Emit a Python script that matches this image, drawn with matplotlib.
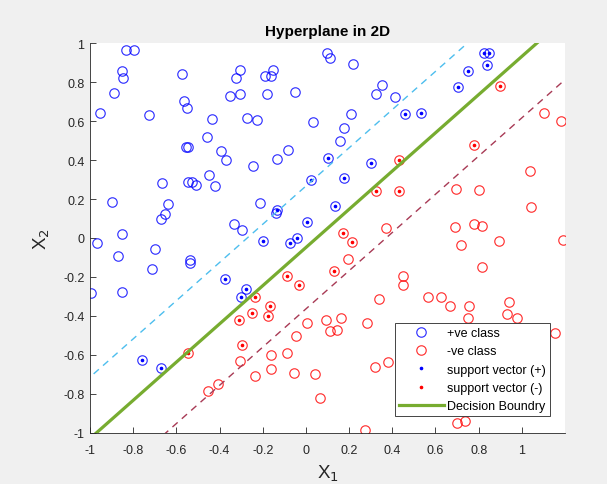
import numpy as np
import matplotlib
matplotlib.use("Agg")
import matplotlib.pyplot as plt
from matplotlib.lines import Line2D

plt.rcParams['font.family'] = ['Liberation Sans', 'DejaVu Sans']

# positive class (no support vector)
pos_x = [-0.834, -0.796, -0.854, -0.849, -0.888, -0.952, -0.726, -0.574, -0.565, -0.552,
         -0.437, -0.460, -0.557, -0.548, -0.392, -0.371, -0.449, -0.420, -0.545, -0.526,
         -0.509, -0.666, -0.897, -0.639, -0.655, -0.672, -0.852, -0.335, -0.297, -0.351,
         -0.306, -0.322, -0.306, -0.271, -0.228, -0.189, -0.162, -0.154, -0.182, -0.049,
         -0.245, -0.134, -0.083, -0.212, -0.140, 0.034, 0.098, 0.110, 0.220, 0.352,
         0.324, 0.414, 0.210, 0.177, 0.160, -0.968, -0.872, -0.697, -0.713, -0.851,
         -0.995, -0.539, -0.539]
pos_y = [0.963, 0.963, 0.857, 0.819, 0.744, 0.641, 0.631, 0.840, 0.701, 0.668,
         0.610, 0.516, 0.466, 0.466, 0.449, 0.398, 0.324, 0.266, 0.289, 0.289,
         0.272, 0.281, 0.185, 0.175, 0.122, 0.098, 0.022, 0.070, 0.041, 0.727,
         0.739, 0.821, 0.864, 0.615, 0.607, 0.833, 0.833, 0.860, 0.740, 0.752,
         0.372, 0.405, 0.452, 0.178, 0.130, 0.596, 0.950, 0.925, 0.895, 0.788,
         0.739, 0.725, 0.638, 0.567, 0.500, -0.027, -0.093, -0.057, -0.161, -0.276,
         -0.281, -0.111, -0.127]

# positive support vectors
psv_x = [-0.135, 0.006, 0.024, 0.101, 0.135, 0.177, 0.301, 0.460, 0.531, 0.703,
         0.752, 0.826, 0.846, 0.838, -0.376, -0.279, -0.302, -0.198, -0.074, -0.039,
         -0.757, -0.672]
psv_y = [0.145, 0.084, 0.298, 0.410, 0.166, 0.310, 0.384, 0.638, 0.641, 0.775,
         0.857, 0.950, 0.950, 0.888, -0.209, -0.262, -0.302, -0.015, -0.026, 0.000,
         -0.629, -0.668]

# negative class (no support vector)
neg_x = [1.101, 1.180, 1.038, 0.695, 0.804, 1.044, 0.371, 0.692, 0.778, 0.815,
         0.197, 0.720, 0.895, 1.189, 0.815, 0.449, 0.450, 0.337, 0.564, 0.627,
         0.667, 0.755, 0.941, 0.932, 0.978, 0.750, 1.152, 0.092, 0.163, 0.112,
         0.146, 0.283, 0.320, 0.380, 0.067, 0.274, 0.700, 0.738, 0.003, -0.045,
         -0.162, -0.088, -0.303, -0.163, -0.235, -0.053, 0.044, -0.408, -0.452]
neg_y = [0.643, 0.602, 0.346, 0.250, 0.245, 0.159, 0.053, 0.058, 0.072, 0.063,
         -0.110, -0.036, -0.014, -0.010, -0.147, -0.195, -0.243, -0.314, -0.303, -0.302,
         -0.350, -0.351, -0.331, -0.389, -0.413, -0.413, -0.487, -0.423, -0.410, -0.480,
         -0.473, -0.439, -0.662, -0.636, -0.823, -0.987, -0.951, -0.939, -0.439, -0.504,
         -0.603, -0.590, -0.634, -0.674, -0.708, -0.696, -0.699, -0.749, -0.788]

# negative support vectors
nsv_x = [0.898, 0.777, 0.431, 0.323, 0.431, 0.174, 0.215, 0.131, -0.545, -0.235,
         -0.168, -0.177, -0.251, -0.311, -0.294, -0.088, -0.034]
nsv_y = [0.781, 0.478, 0.401, 0.242, 0.242, 0.026, -0.019, -0.170, -0.590, -0.305,
         -0.351, -0.403, -0.386, -0.422, -0.549, -0.194, -0.242]

# hyperplane w1*x + w2*y + b = 0
w = [-3.11, 3.17]
b = 0.155

xticks = [-1, -0.8, -0.6, -0.4, -0.2, 0, 0.2, 0.4, 0.6, 0.8, 1]
xticklabels = ['-1', '-0.8', '-0.6', '-0.4', '-0.2', '0', '0.2', '0.4', '0.6', '0.8', '1']
yticks = [-1, -0.8, -0.6, -0.4, -0.2, 0, 0.2, 0.4, 0.6, 0.8, 1]
yticklabels = ['-1', '-0.8', '-0.6', '-0.4', '-0.2', '0', '0.2', '0.4', '0.6', '0.8', '1']

fig = plt.figure(figsize=(6.07, 4.85), dpi=100, facecolor='#F0F0F0')
ax = fig.add_axes([0.1483, 0.1058, 0.7825, 0.803])
ax.set_facecolor('white')

ms = 6.8
mew = 0.85
blue = '#0000FF'
red = '#FF0000'
ax.plot(pos_x + psv_x, pos_y + psv_y, 'o', mfc='none', mec=blue, ms=ms, mew=mew, alpha=0.8)
ax.plot(neg_x + nsv_x, neg_y + nsv_y, 'o', mfc='none', mec=red, ms=ms, mew=mew, alpha=0.8)
ax.plot(psv_x, psv_y, '.', color=blue, ms=3.2)
ax.plot(nsv_x, nsv_y, '.', color=red, ms=3.2)

xs = np.linspace(-1.2, 1.4, 200)
yd = -(w[0] * xs + b) / w[1]
yp = -(w[0] * xs + b - 1) / w[1]
ym = -(w[0] * xs + b + 1) / w[1]
ax.plot(xs, yp, '--', color='#4DBEEE', lw=1.0, dashes=(5, 4))
ax.plot(xs, ym, '--', color='#A83A55', lw=1.0, dashes=(5, 4))
ax.plot(xs, yd, '-', color='#77AC30', lw=2.3)

ax.set_xlim(-1, 1.2)
ax.set_ylim(-1, 1)
ax.set_xticks(xticks)
ax.set_xticklabels(xticklabels)
ax.set_yticks(yticks)
ax.set_yticklabels(yticklabels)
ax.tick_params(direction='in', length=4, width=0.6, colors='#262626', labelsize=9)
ax.tick_params(axis='x', pad=8)
ax.tick_params(axis='y', pad=4)
for s in ['top', 'right']:
    ax.spines[s].set_visible(False)
for s in ['left', 'bottom']:
    ax.spines[s].set_color('#262626')
    ax.spines[s].set_linewidth(0.6)

ax.set_title('Hyperplane in 2D', fontsize=11, fontweight='bold', pad=6)
ax.set_xlabel('X$_1$', fontsize=13.5, labelpad=5, color='#262626')
ax.set_ylabel('X$_2$', fontsize=13.5, labelpad=8, color='#262626')

handles = [
    Line2D([], [], ls='none', marker='o', mfc='none', mec=blue, ms=ms, mew=mew, alpha=0.8),
    Line2D([], [], ls='none', marker='o', mfc='none', mec=red, ms=ms, mew=mew, alpha=0.8),
    Line2D([], [], ls='none', marker='.', color=blue, ms=3.2),
    Line2D([], [], ls='none', marker='.', color=red, ms=3.2),
    Line2D([], [], color='#77AC30', lw=2.3),
]
labels = ['+ve class', '-ve class', 'support vector (+)', 'support vector (-)', 'Decision Boundry']
leg = ax.legend(handles, labels, loc='lower right', bbox_to_anchor=(0.968, 0.043),
                fontsize=9, frameon=True, fancybox=False, framealpha=1,
                edgecolor='#262626', handlelength=3.6, handletextpad=0.3,
                borderpad=0.3, labelspacing=0.5, borderaxespad=0)
leg.get_frame().set_linewidth(0.6)

fig.savefig('out.png', dpi=100, facecolor=fig.get_facecolor())
